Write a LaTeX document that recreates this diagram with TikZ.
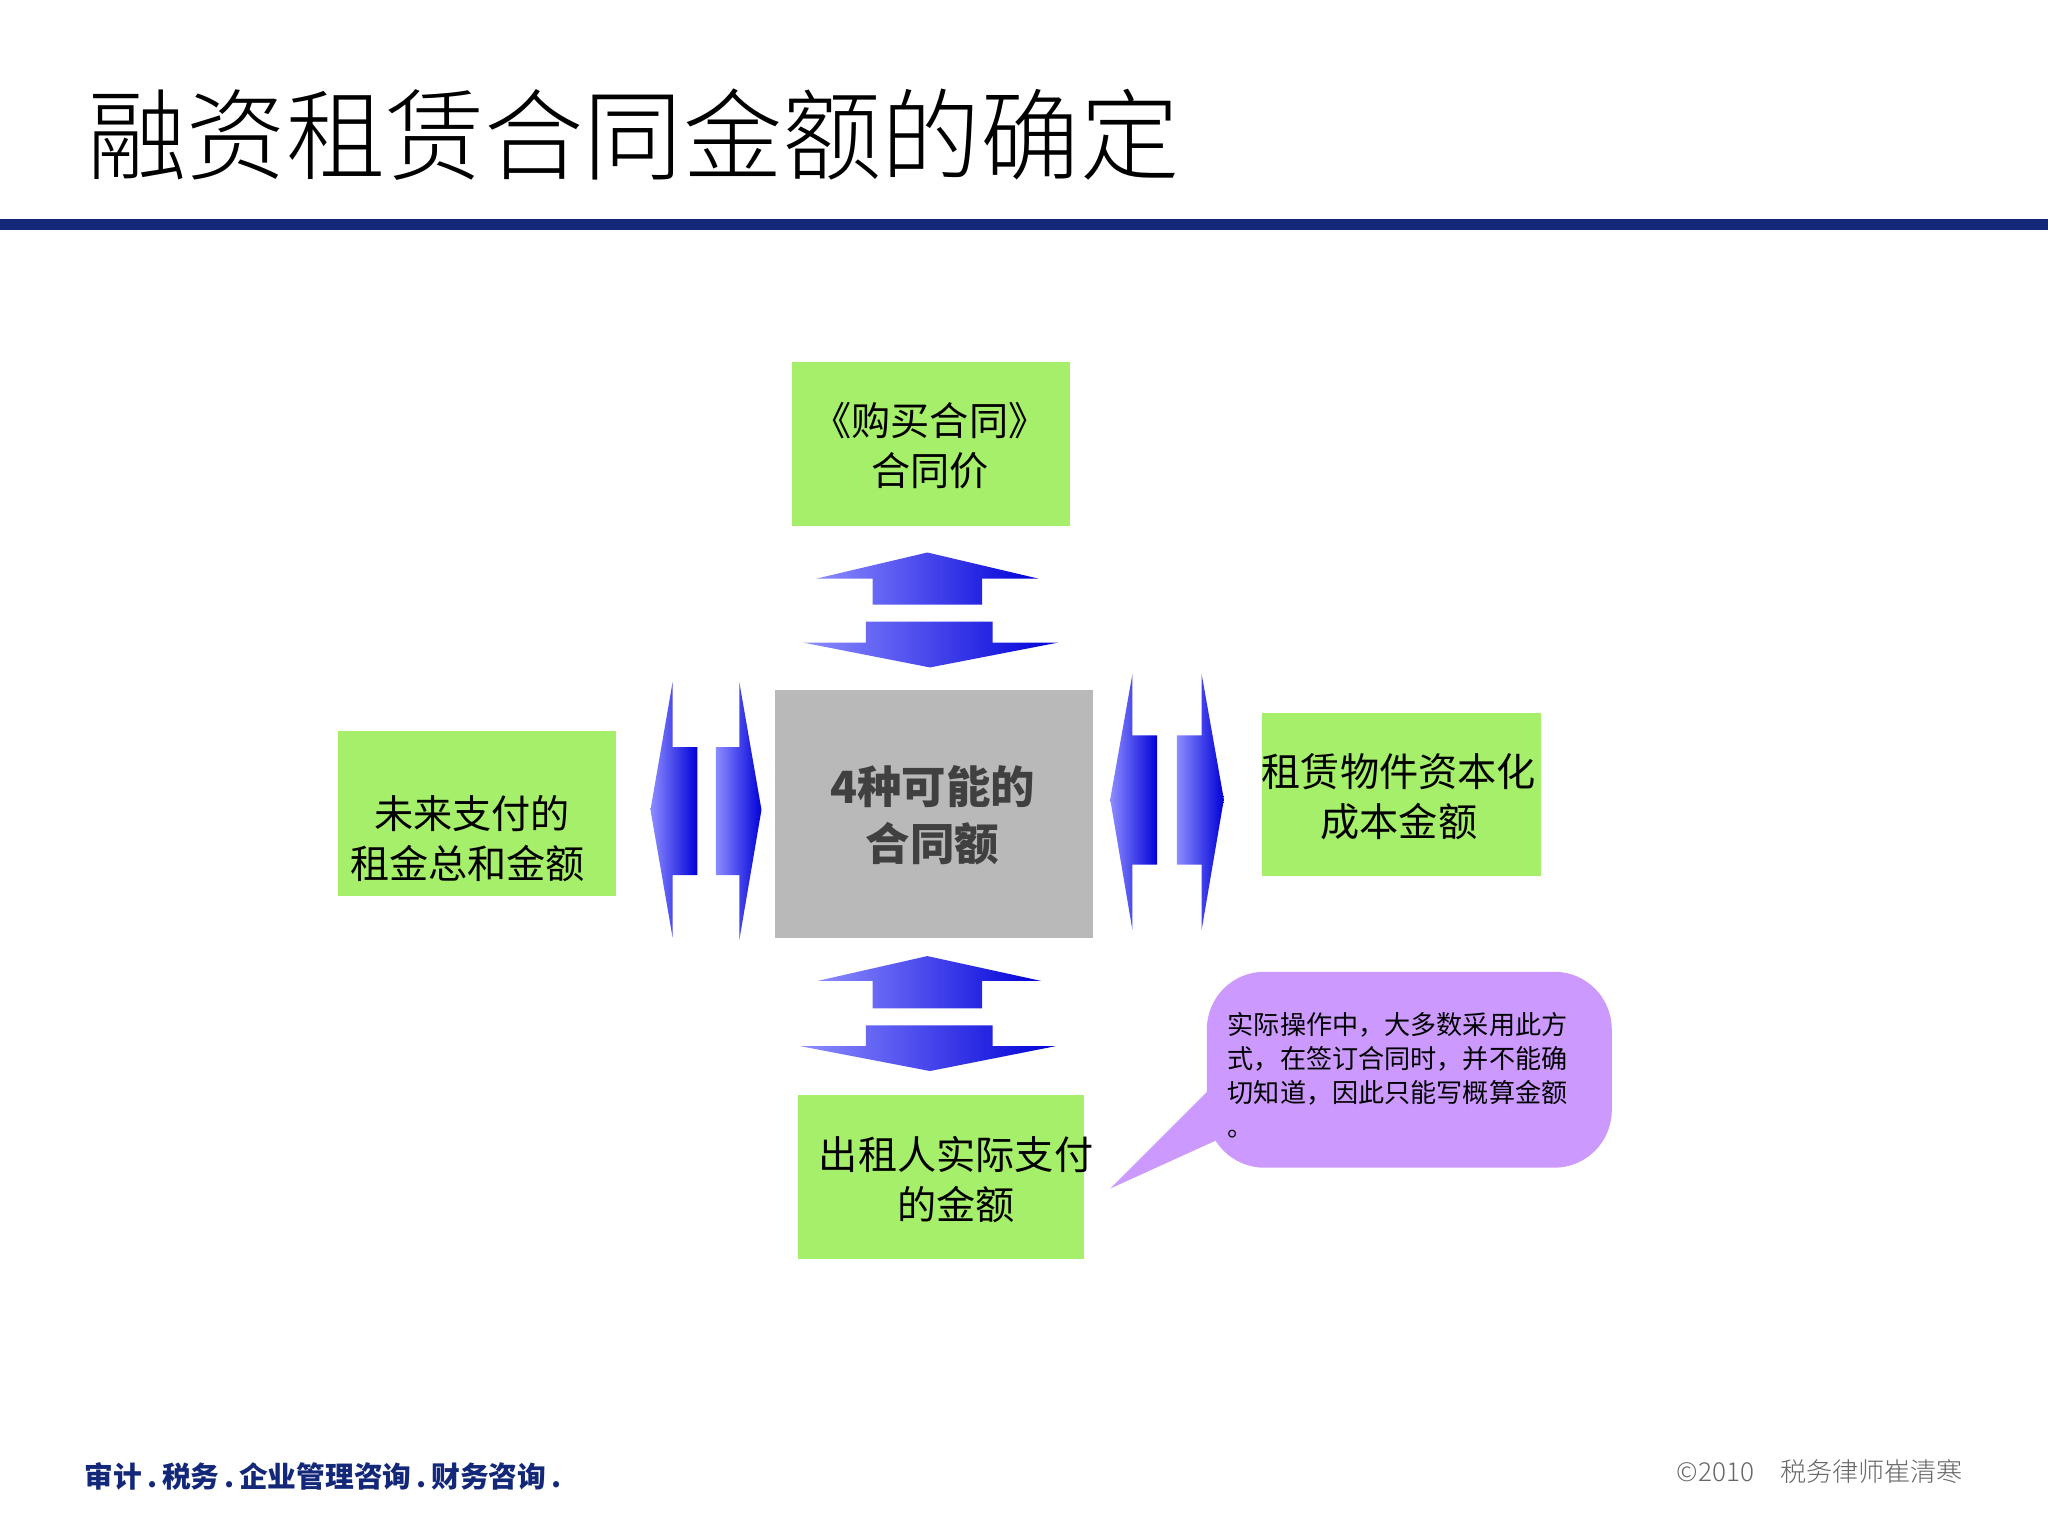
\documentclass[tikz,border=0pt]{standalone}
\usepackage{fontspec}
\setmainfont{Liberation Serif}
\newfontfamily\cjk{Noto Sans CJK SC}
\newfontfamily\cjkl{Noto Sans CJK SC Light}
\definecolor{gr}{HTML}{A6EF6A}
\definecolor{navy}{HTML}{14287A}
\definecolor{pur}{HTML}{CC99FF}
\tikzset{x=0.5pt,y=-0.5pt,
 gbox/.style={fill=gr,draw=none},
 btxt/.style={font=\cjk\fontsize{15}{19}\selectfont,align=center},
 barrow/.style={draw=none,left color=blue!45!white,right color=blue!85!black}}
\begin{document}
\begin{tikzpicture}
\useasboundingbox (0,0) rectangle (1568,1176);
\node[anchor=west,font=\cjkl\fontsize{38}{40}\selectfont] (title) at (60,103) {融资租赁合同金额的确定};
\fill[navy] (0,168) rectangle (1568,176);
% boxes
\fill[gbox] (606,277) rectangle (819,403);
\node[btxt] (top) at (712,341) {《购买合同》\\合同价};
\fill[gbox] (259,560) rectangle (472,686);
\node[btxt] (left) at (358,642) {\ 未来支付的\\租金总和金额};
\fill[gbox] (966,546) rectangle (1180,671);
\node[btxt] (right) at (1071,610) {租赁物件资本化\\成本金额};
\fill[gbox] (611,838) rectangle (830,964);
\node[btxt] (bot) at (732,903) {出租人实际支付\\的金额};
\fill[gray!55] (593,528) rectangle (837,718);
\node[btxt,font=\cjk\bfseries\fontsize{17}{22}\selectfont,text=black!75] (ctr) at (714,624) {4种可能的\\合同额};
% callout
\fill[pur,rounded corners=22pt] (924,744) rectangle (1234,894);
\fill[pur] (930,830) -- (850,910) -- (960,860) -- cycle;
\node[anchor=north west,align=left,font=\cjk\fontsize{10}{13}\selectfont] (note) at (933,768) {实际操作中，大多数采用此方\\式，在签订合同时，并不能确\\切知道，因此只能写概算金额\\。};
% vertical arrows top
\shade[barrow] (710,423) -- (795,443) -- (752,443) -- (752,463) -- (668,463) -- (668,443) -- (625,443) -- cycle;
\shade[barrow] (663,476) -- (760,476) -- (760,492) -- (810,492) -- (712,511) -- (615,492) -- (663,492) -- cycle;
% bottom
\shade[barrow] (710,732) -- (797,751) -- (752,751) -- (752,772) -- (668,772) -- (668,751) -- (626,751) -- cycle;
\shade[barrow] (663,785) -- (760,785) -- (760,801) -- (808,801) -- (712,820) -- (613,801) -- (663,801) -- cycle;
% left pair
\shade[barrow] (498,620) -- (515,522) -- (515,572) -- (534,572) -- (534,670) -- (515,670) -- (515,718) -- cycle;
\shade[barrow] (548,572) -- (566,572) -- (566,522) -- (583,620) -- (566,720) -- (566,670) -- (548,670) -- cycle;
% right pair
\shade[barrow] (850,612) -- (867,516) -- (867,563) -- (886,563) -- (886,662) -- (867,662) -- (867,712) -- cycle;
\shade[barrow] (901,563) -- (920,563) -- (920,516) -- (937,612) -- (920,712) -- (920,662) -- (901,662) -- cycle;
% footer
\node[anchor=west,text=navy,font=\cjk\bfseries\fontsize{11}{13}\selectfont] (foot) at (58,1130) {审计\,\textbf{.}\,税务\,\textbf{.}\,企业管理咨询\,\textbf{.}\,财务咨询\,\textbf{.}};
\node[anchor=east,text=black!60,font=\cjkl\fontsize{10}{12}\selectfont] (copy) at (1510,1127) {©2010\quad 税务律师崔清寒};
\end{tikzpicture}
\end{document}
